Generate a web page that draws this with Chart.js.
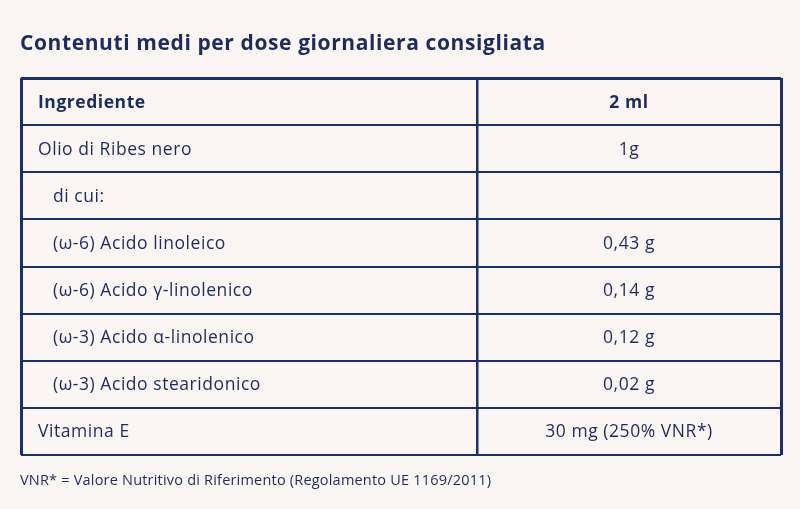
<!DOCTYPE html>
<html>
<head>
<meta charset="utf-8">
<script src="https://cdn.jsdelivr.net/npm/chart.js@4"></script>
<style>
  html, body { margin: 0; padding: 0; background: #fbf6f4; }
  #wrap { position: relative; width: 800px; height: 509px; }
  #title { position: absolute; left: 20px; top: 28px; margin: 0; font: bold 21px "Open Sans", sans-serif; letter-spacing: 0.6px; color: #1d2c5e; line-height: 28px; }
  #note { position: absolute; left: 20px; top: 470px; margin: 0; font: 14.5px "Open Sans", sans-serif; letter-spacing: 0.2px; color: #1d2c5e; line-height: 20px; }
  canvas { position: absolute; left: 0; top: 0; }
</style>
</head>
<body>
<div id="wrap">
  <canvas id="myChart" width="800" height="509"></canvas>
  <h2 id="title">Contenuti medi per dose giornaliera consigliata</h2>
  <p id="note">VNR* = Valore Nutritivo di Riferimento (Regolamento UE 1169/2011)</p>
</div>
<script>
const header = ['Ingrediente', '2 ml'];
const ingredients = ['Olio di Ribes nero', 'di cui:', '(ω-6) Acido linoleico', '(ω-6) Acido γ-linolenico',
  '(ω-3) Acido α-linolenico', '(ω-3) Acido stearidonico', 'Vitamina E'];
const amounts = ['1g', '', '0,43 g', '0,14 g', '0,12 g', '0,02 g', '30 mg (250% VNR*)'];
const indented = [false, true, true, true, true, true, false];

const rows = [header[0]].concat(ingredients);
const colEdges = [0, 0.6, 1];
const navy = '#1a3068';
const ink = '#1d2c5e';

// writes the cells, placed by the chart scales
const cellText = {
  id: 'cellText',
  afterDraw(chart) {
    const { ctx, scales: { x, y } } = chart;
    const left = x.getPixelForValue(colEdges[0]);
    const mid = x.getPixelForValue((colEdges[1] + colEdges[2]) / 2);
    ctx.save();
    ctx.fillStyle = ink;
    ctx.textBaseline = 'middle';
    ctx.letterSpacing = '0.55px';
    rows.forEach((r, i) => {
      const py = y.getPixelForValue(i) + 1;
      ctx.font = (i === 0 ? 'bold ' : '') + '17.5px "Open Sans", sans-serif';
      ctx.textAlign = 'left';
      ctx.fillText(r, left + 17 + (i > 0 && indented[i - 1] ? 15 : 0), py);
      ctx.textAlign = 'center';
      ctx.fillText(i === 0 ? header[1] : amounts[i - 1], mid, py);
    });
    ctx.restore();
  }
};

new Chart('myChart', {
  type: 'bar',
  data: { labels: rows, datasets: [] },
  options: {
    responsive: false,
    animation: false,
    indexAxis: 'y',
    layout: { padding: { left: 21, right: 19, top: 78, bottom: 54 } },
    plugins: { legend: { display: false }, tooltip: { enabled: false } },
    scales: {
      x: {
        type: 'linear', min: 0, max: 1,
        afterBuildTicks: s => { s.ticks = colEdges.map(v => ({ value: v })); },
        ticks: { display: false },
        border: { display: false },
        grid: { color: navy, drawTicks: false, lineWidth: c => (c.index === 1 ? 2.5 : 3) }
      },
      y: {
        type: 'category', offset: true,
        ticks: { display: false },
        border: { display: false },
        grid: { offset: true, color: navy, drawTicks: false, lineWidth: c => (c.index === 0 || c.index === rows.length ? 3 : 2) }
      }
    }
  },
  plugins: [cellText]
});
</script>
</body>
</html>
